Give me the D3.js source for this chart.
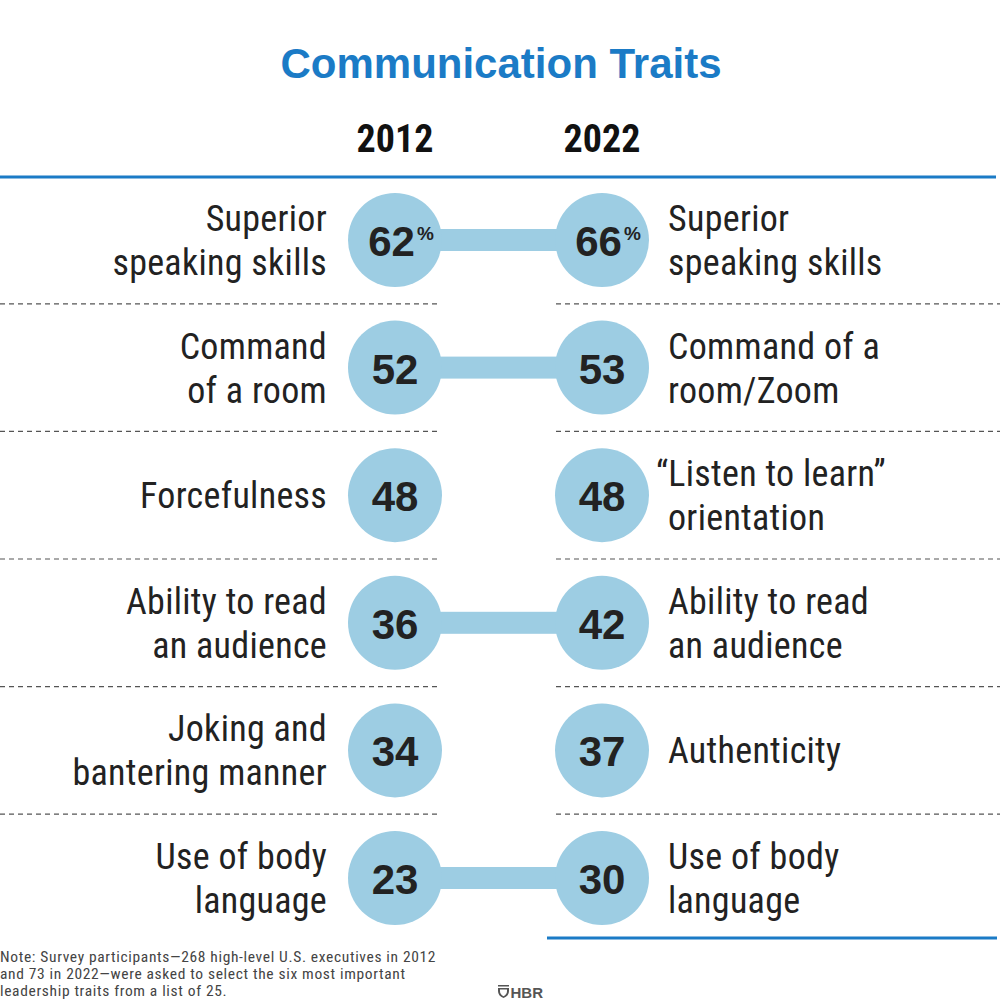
<!DOCTYPE html>
<html><head><meta charset="utf-8">
<script src="https://cdn.jsdelivr.net/npm/d3@7"></script>
<style>
html,body{margin:0;padding:0;background:#fff;}
svg{display:block;}
</style></head>
<body>
<svg id="chart" width="1000" height="1000"></svg>
<script>
const title = "Communication Traits";
const years = ["2012", "2022"];
const labels2012 = ["Superior\nspeaking skills", "Command\nof a room", "Forcefulness", "Ability to read\nan audience", "Joking and\nbantering manner", "Use of body\nlanguage"];
const labels2022 = ["Superior\nspeaking skills", "Command of a\nroom/Zoom", "“Listen to learn”\norientation", "Ability to read\nan audience", "Authenticity", "Use of body\nlanguage"];
const values2012 = [62, 52, 48, 36, 34, 23];
const values2022 = [66, 53, 48, 42, 37, 30];
const connected = [true, true, false, true, false, true];
const noteLines = ["Note: Survey participants—268 high-level U.S. executives in 2012", "and 73 in 2022—were asked to select the six most important", "leadership traits from a list of 25."];

const svg = d3.select("#chart");
const BLUE = "#1b7bc6", CIRCLE = "#9dcde3", DARK = "#222";
const NARROW = "'Liberation Sans Narrow', 'Roboto Condensed', 'Arial Narrow', sans-serif";

const rows = d3.range(values2012.length);
const y = d3.scalePoint().domain(rows).range([240, 878]);
const x = d3.scalePoint().domain(years).range([395, 602]);
const r = 47;

// title
svg.append("text").attr("x", 501).attr("y", 78).attr("text-anchor", "middle")
  .attr("fill", BLUE).attr("font-family", "'Liberation Sans', Arial, sans-serif")
  .attr("font-weight", "bold").attr("font-size", 42).text(title);

// year headers
svg.selectAll("text.year").data(years).join("text").attr("class", "year")
  .attr("x", d => x(d)).attr("y", 152).attr("text-anchor", "middle")
  .attr("font-family", NARROW).attr("font-weight", "bold").attr("font-size", 38)
  .attr("fill", "#111").text(d => d);

// top rule
svg.append("rect").attr("x", 0).attr("y", 175.5).attr("width", 996).attr("height", 3).attr("fill", BLUE);
// bottom rule (right)
svg.append("rect").attr("x", 547).attr("y", 936.5).attr("width", 450).attr("height", 3).attr("fill", BLUE);

// dashed separators
const seps = rows.slice(0, -1).map(i => (y(i) + y(i + 1)) / 2);
const sepG = svg.append("g");
sepG.selectAll("line.l").data(seps).join("line").attr("class", "l")
  .attr("x1", 0).attr("x2", 440).attr("y1", d => d).attr("y2", d => d);
sepG.selectAll("line.r").data(seps).join("line").attr("class", "r")
  .attr("x1", 556).attr("x2", 1000).attr("y1", d => d).attr("y2", d => d);
sepG.selectAll("line").attr("stroke", "#555").attr("stroke-width", 1.2).attr("stroke-dasharray", "5,4");

// connectors
svg.selectAll("rect.conn").data(rows.filter(i => connected[i])).join("rect").attr("class", "conn")
  .attr("x", x("2012")).attr("width", x("2022") - x("2012"))
  .attr("y", i => y(i) - 11).attr("height", 22).attr("fill", CIRCLE);

// circles and values
const pts = [];
rows.forEach(i => {
  pts.push({ year: "2012", row: i, v: values2012[i] });
  pts.push({ year: "2022", row: i, v: values2022[i] });
});
svg.selectAll("circle.dot").data(pts).join("circle").attr("class", "dot")
  .attr("cx", d => x(d.year)).attr("cy", d => y(d.row)).attr("r", r).attr("fill", CIRCLE);

const vt = svg.selectAll("text.val").data(pts).join("text").attr("class", "val")
  .attr("x", d => x(d.year) + (d.row === 0 ? 6 : 0)).attr("y", d => y(d.row) + 16).attr("text-anchor", "middle")
  .attr("font-family", "'Liberation Sans', Arial, sans-serif").attr("font-weight", "bold")
  .attr("font-size", 42).attr("fill", DARK);
vt.each(function (d) {
  const t = d3.select(this);
  t.append("tspan").text(d.v);
  if (d.row === 0) {
    t.append("tspan").attr("font-size", 19).attr("dx", 2).attr("dy", -16).text("%");
  }
});

// labels
function drawLabels(data, xpos, anchor) {
  svg.selectAll(null).data(data).join("text")
    .attr("x", xpos).attr("text-anchor", anchor)
    .attr("font-family", NARROW).attr("font-size", 36).attr("letter-spacing", 0.3).attr("fill", DARK)
    .each(function (d, i) {
      const lines = d.split("\n");
      const base = y(i) + 13 - (lines.length - 1) * 22;
      const t = d3.select(this);
      lines.forEach((ln, k) => {
        t.append("tspan").attr("x", xpos - (anchor === "start" && ln.startsWith("“") ? 12 : 0))
          .attr("y", base + k * 44).text(ln);
      });
    });
}
drawLabels(labels2012, 327, "end");
drawLabels(labels2022, 668, "start");

// note
svg.append("g").selectAll("text").data(noteLines).join("text")
  .attr("x", 0).attr("y", (d, i) => 962 + i * 17)
  .attr("font-family", NARROW).attr("font-size", 15.5).attr("letter-spacing", 0.65)
  .attr("fill", "#444").text(d => d);

// HBR logo
const logo = svg.append("g").attr("transform", "translate(498,985)");
logo.append("path").attr("d", "M0,0 H11 V1.6 H0 Z M0,3 H11 V6 Q11,11 5.5,13 Q0,11 0,6 Z M2,4.6 V6 Q2,9.6 5.5,11.2 Q9,9.6 9,6 V4.6 Z")
  .attr("fill", "#555").attr("fill-rule", "evenodd");
logo.append("text").attr("x", 12.5).attr("y", 13).attr("font-family", "'Liberation Sans', Arial, sans-serif")
  .attr("font-weight", "bold").attr("font-size", 15).attr("fill", "#555").text("HBR");
</script>
</body></html>
